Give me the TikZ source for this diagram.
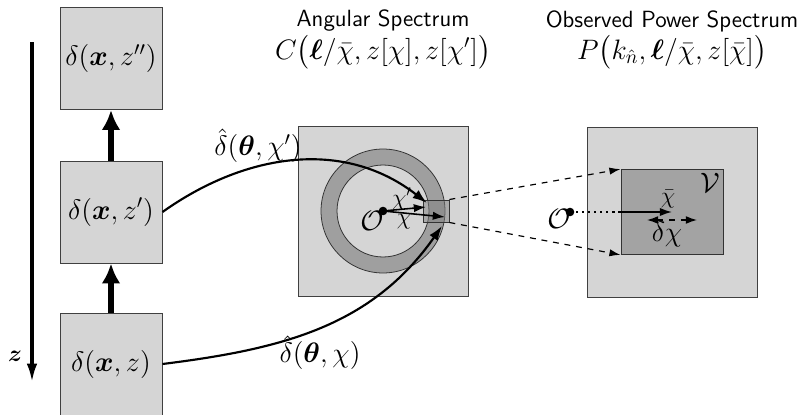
\documentclass[tikz,border=0pt]{standalone}
\usepackage{amsmath}
\usepackage{bm}
\usetikzlibrary{arrows.meta}

\begin{document}
\begin{tikzpicture}[x=0.018cm, y=-0.018cm,
  slab/.style={draw=black!75, fill=gray!33, minimum size=1.84cm, inner sep=0pt, font=\Large},
  panel/.style={draw=black!75, fill=gray!33, minimum size=3.06cm, inner sep=0pt},
  stepup/.style={line width=2.6pt, -{Latex[length=0.36cm, width=0.34cm]}},
  prop/.style={line width=1.1pt, -{Latex[length=0.26cm, width=0.18cm]}},
  ray/.style={line width=0.8pt, -{Latex[length=0.22cm, width=0.15cm]}},
  proj/.style={dashed, line width=0.6pt, -{Latex[length=0.2cm, width=0.13cm]}}]
  \useasboundingbox (0,0) rectangle (798,415);

%slices along z:
  \node[slab] (zpp) at (111,58.5) {$\delta(\bm{x},z'')$};
  \node[slab] (zp) at (111,212) {$\delta(\bm{x},z')$};
  \node[slab] (z0) at (111,364) {$\delta(\bm{x},z)$};
  \draw[stepup] (z0) -- (zp);
  \draw[stepup] (zp) -- (zpp);

  \coordinate (ztop) at (32,42);
  \coordinate (zbot) at (32,382);
  \draw[line width=1.6pt, -{Latex[length=0.33cm, width=0.19cm]}] (ztop) -- (zbot);
  \node[font=\large] (zlab) at (15,356) {$\bm{z}$};

%panels:
  \node[panel] (ang) at (383,211) {};
  \node[panel] (obs) at (672,212) {};
  \node[font=\large\sffamily, inner sep=0pt] (angt) at (383,21) {Angular Spectrum};
  \node[font=\Large, inner sep=0pt] (angf) at (383,52) {$C\bigl(\bm{\ell}/\bar{\chi}, z[\chi], z[\chi']\bigr)$};
  \node[font=\large\sffamily, inner sep=0pt] (obst) at (672,21) {Observed Power Spectrum};
  \node[font=\Large, inner sep=0pt] (obsf) at (672,52) {$P\bigl(k_{\hat{n}}, \bm{\ell}/\bar{\chi}, z[\bar{\chi}]\bigr)$};

%shell on the sky:
  \draw[draw=black!80, fill=gray!75, even odd rule] (383,211) circle[radius=1.116cm] (383,211) circle[radius=0.828cm];
  \node[draw=black!80, fill=gray, fill opacity=0.5, minimum width=0.47cm, minimum height=0.4cm, inner sep=0pt] (cell) at (436,211) {};

  \coordinate (o1) at (383,211);
  \fill (o1) circle[radius=2.2pt];
  \node[font=\Large] (o1lab) at (372,221) {$\mathcal{O}$};
  \coordinate (tipa) at (426,207);
  \coordinate (tipb) at (445,217);
  \draw[ray] (o1) -- (tipa);
  \draw[ray] (o1) -- (tipb);
  \node[font=\large] (chia) at (402,199) {$\chi'$};
  \node[font=\large] (chib) at (404,222) {$\chi$};

%projection:
  \coordinate (ina) at (427,203);
  \coordinate (inb) at (442,226);
  \draw[prop] (zp.east) .. controls (247,152) and (345,139) .. (ina);
  \draw[prop] (z0.east) .. controls (283,349) and (372,326) .. (inb);
  \node[font=\Large] (laba) at (258,146) {$\hat{\delta}(\bm{\theta},\chi')$};
  \node[font=\Large] (labb) at (320,353) {$\hat{\delta}(\bm{\theta},\chi)$};

%survey volume:
  \node[draw=black!80, fill=gray!72, minimum width=1.84cm, minimum height=1.53cm, inner sep=0pt] (vol) at (672,212) {};
  \node[font=\Large] (vlab) at (710,183) {$\mathcal{V}$};
  \draw[proj] (cell.north east) -- (vol.north west);
  \draw[proj] (cell.south east) -- (vol.south west);

  \coordinate (o2) at (570,212);
  \fill (o2) circle[radius=2.2pt];
  \node[font=\Large] (o2lab) at (559,219) {$\mathcal{O}$};
  \draw[dotted, line width=1.1pt] (o2) -- (vol.west);
  \coordinate (mid) at (672,212);
  \draw[ray] (vol.west) -- (mid);
  \node[font=\large] (chibar) at (668,199) {$\bar{\chi}$};
  \coordinate (dl) at (647,220);
  \coordinate (dr) at (697,220);
  \draw[dashed, line width=0.6pt, {Latex[length=0.2cm, width=0.14cm]}-{Latex[length=0.2cm, width=0.14cm]}] (dl) -- (dr);
  \node[font=\Large] (dchi) at (667,234) {$\delta\chi$};
\end{tikzpicture}
\end{document}
